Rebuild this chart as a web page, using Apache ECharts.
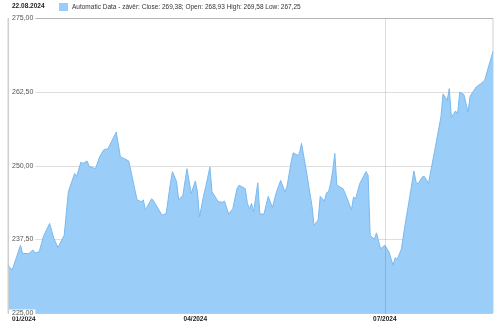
<!DOCTYPE html>
<html><head><meta charset="utf-8">
<script src="https://cdn.jsdelivr.net/npm/echarts@6/dist/echarts.min.js"></script>
<style>html,body{margin:0;padding:0;background:#fff}#c{width:500px;height:327px}</style>
</head><body><div id="c"></div>
<script>
const dates = ['2024-01-02','2024-01-04','2024-01-08','2024-01-09','2024-01-12','2024-01-14','2024-01-15','2024-01-17','2024-01-19','2024-01-22','2024-01-24','2024-01-26','2024-01-29','2024-01-31',
'2024-02-03','2024-02-04','2024-02-06','2024-02-07','2024-02-09','2024-02-10','2024-02-13','2024-02-15','2024-02-17','2024-02-19','2024-02-23','2024-02-25','2024-02-27','2024-02-29',
'2024-03-01','2024-03-04','2024-03-06','2024-03-07','2024-03-08','2024-03-11','2024-03-12','2024-03-16','2024-03-18','2024-03-20','2024-03-21','2024-03-23','2024-03-24','2024-03-26','2024-03-28','2024-03-30',
'2024-04-01','2024-04-02','2024-04-03','2024-04-05','2024-04-06','2024-04-08','2024-04-09','2024-04-12','2024-04-14','2024-04-15','2024-04-17','2024-04-19','2024-04-21','2024-04-22','2024-04-25','2024-04-26','2024-04-27','2024-04-28','2024-04-29',
'2024-05-01','2024-05-02','2024-05-04','2024-05-06','2024-05-08','2024-05-10','2024-05-12','2024-05-14','2024-05-15','2024-05-17','2024-05-18','2024-05-20','2024-05-21','2024-05-22','2024-05-24','2024-05-27','2024-05-28','2024-05-30','2024-05-31',
'2024-06-02','2024-06-03','2024-06-04','2024-06-05','2024-06-06','2024-06-07','2024-06-08','2024-06-11','2024-06-13','2024-06-15','2024-06-16','2024-06-17','2024-06-19','2024-06-22','2024-06-23','2024-06-24','2024-06-26','2024-06-27','2024-06-29',
'2024-07-01','2024-07-03','2024-07-05','2024-07-06','2024-07-07','2024-07-09','2024-07-11','2024-07-13','2024-07-15','2024-07-16','2024-07-17','2024-07-19','2024-07-20','2024-07-22','2024-07-25','2024-07-28','2024-07-29','2024-07-31',
'2024-08-01','2024-08-02','2024-08-04','2024-08-05','2024-08-06','2024-08-08','2024-08-10','2024-08-11','2024-08-14','2024-08-16','2024-08-18','2024-08-20','2024-08-22'];
const closes = [233.1,232.3,236.5,235.1,235.1,235.7,235.2,235.4,238.0,240.2,237.7,236.1,238.2,245.6,
248.7,248.2,250.6,250.4,250.8,249.9,249.5,251.5,252.7,252.9,255.7,251.5,251.2,250.8,
249.2,244.2,243.9,244.2,242.5,244.4,244.0,241.6,241.9,247.0,249.0,247.3,244.2,245.0,249.5,245.3,
247.4,245.6,241.3,245.0,246.4,249.8,245.6,243.9,243.8,244.0,241.8,242.7,246.1,246.7,246.1,243.6,242.7,243.6,242.2,
247.1,241.8,241.8,244.8,242.9,245.6,247.5,245.6,246.4,250.6,252.2,251.8,252.1,253.8,249.8,243.3,239.9,240.8,244.8,
244.0,245.4,245.6,247.0,249.2,252.1,246.7,246.1,244.4,242.5,244.7,244.4,247.0,249.0,248.4,238.2,237.5,238.6,235.9,
236.5,235.4,233.1,234.4,234.1,235.9,240.5,244.7,249.1,247.3,246.9,248.1,248.2,247.0,252.6,258.3,262.2,261.1,
263.1,258.2,259.3,258.8,262.5,262.1,259.1,261.8,263.4,263.9,264.5,267.0,269.38];

const headerDate = '22.08.2024';
const seriesName = 'Automatic Data - závěr';
const ohlcNames = ['Close','Open','High','Low'];
const ohlcValues = [269.38, 268.93, 269.58, 267.25];
const xTickDates = ['2024-01-02','2024-04-01','2024-07-01'];
const xTickLabels = ['01/2024','04/2024','07/2024'];
const markerDate = '2024-07-01';
const yMin = 225, yMax = 275, yStep = 12.5;

const dayOf = s => { const [y,m,d] = s.split('-').map(Number); return Math.round((Date.UTC(y,m-1,d) - Date.UTC(2024,0,1)) / 864e5); };
const fmtNum = v => v.toFixed(2).replace('.', ',');
const legendText = seriesName + ': ' + ohlcNames[0] + ': ' + fmtNum(ohlcValues[0]) + '; ' +
  ohlcNames[1] + ': ' + fmtNum(ohlcValues[1]) + ' ' + ohlcNames[2] + ': ' + fmtNum(ohlcValues[2]) + ' ' +
  ohlcNames[3] + ': ' + fmtNum(ohlcValues[3]);

const tickDays = xTickDates.map(dayOf);
const font = 'Liberation Sans, Arial, sans-serif';
const chart = echarts.init(document.getElementById('c'), null, {renderer: 'canvas'});
chart.setOption({
  animation: false,
  textStyle: {fontFamily: font},
  title: {text: headerDate, left: 12, top: 3, padding: 0,
    textStyle: {fontSize: 6.5, fontWeight: 'bold', color: '#222', fontFamily: font}},
  legend: {left: 59, top: 3, padding: 0, icon: 'rect', itemWidth: 9, itemHeight: 8, itemGap: 4,
    textStyle: {fontSize: 6.5, color: '#333', fontFamily: font, padding: [0,0,0,-1]},
    data: [{name: legendText}]},
  grid: {left: 8, right: 7, top: 18.5, bottom: 14, show: true, borderColor: '#cfcfcf', borderWidth: 1},
  xAxis: {type: 'value', min: dayOf(dates[0]), max: dayOf(dates[dates.length-1]),
    axisLine: {show: false}, axisTick: {show: false}, splitLine: {show: false},
    axisLabel: {customValues: tickDays, alignMinLabel: 'left', margin: 3, fontSize: 6.5, fontWeight: 'bold', color: '#222', fontFamily: font,
      formatter: v => { const i = tickDays.indexOf(Math.round(v)); return i < 0 ? '' : (i === 0 ? '{first|' + xTickLabels[i] + '}' : xTickLabels[i]); },
      rich: {first: {padding: [0,0,0,4], fontSize: 6.5, fontWeight: 'bold', color: '#222', fontFamily: font}}}},
  yAxis: {type: 'value', min: yMin, max: yMax, interval: yStep, z: 3,
    axisLine: {show: true, lineStyle: {color: '#cfcfcf'}}, axisTick: {show: false},
    splitLine: {show: true, lineStyle: {color: 'rgba(0,0,0,0.13)', width: 1}},
    axisLabel: {inside: true, margin: 1, fontSize: 7, color: '#555', fontFamily: font, backgroundColor: '#fff', padding: [0,2,0,3],
      formatter: v => fmtNum(v)}},
  series: [{
    name: legendText, type: 'line', showSymbol: false, symbol: 'none',
    data: dates.map((d,i) => [dayOf(d), closes[i]]),
    itemStyle: {color: '#9acdf7'},
    lineStyle: {color: '#7ab9ee', width: 1},
    areaStyle: {color: '#9acdf7', opacity: 1},
    markLine: {silent: true, symbol: 'none', label: {show: false},
      lineStyle: {color: 'rgba(0,0,0,0.13)', type: 'solid', width: 1},
      data: [{xAxis: dayOf(markerDate)}]}
  }]
});
</script></body></html>
